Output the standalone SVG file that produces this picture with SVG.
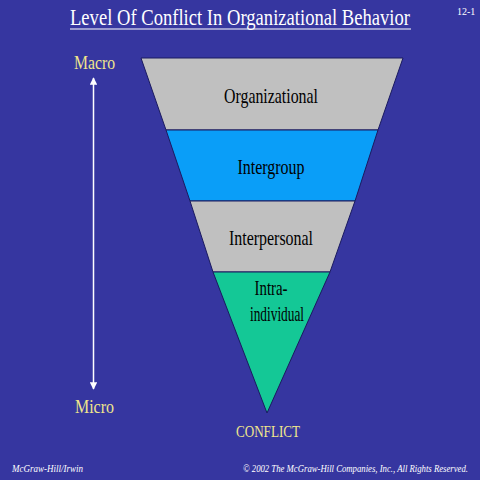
<svg xmlns="http://www.w3.org/2000/svg" width="480" height="480" viewBox="0 0 480 480">
<defs>
<style>
.t{font-family:"Liberation Serif","Times New Roman",serif}
.lvl{font-size:21px;fill:#000;text-anchor:middle}
.yel{fill:#f0e68c}
.band{stroke:#1a1a60;stroke-width:1}
.ft{font-size:9.5px;font-style:italic;fill:#fff}
</style>
<marker id="ah" viewBox="0 0 10 10" refX="9" refY="5" markerWidth="5" markerHeight="5" orient="auto-start-reverse">
<path d="M0,0 L10,5 L0,10 z" fill="#fff"/>
</marker>
</defs>
<rect width="480" height="480" fill="#3636a0"/>
<g id="title">
<text class="t" transform="translate(70,25) scale(0.764,1)" x="0" y="0" font-size="24" fill="#fff" textLength="445" lengthAdjust="spacingAndGlyphs">Level Of Conflict In Organizational Behavior</text>
<line x1="70" y1="29" x2="411" y2="29" stroke="#fff" stroke-width="1.2"/>
<text class="t" x="457" y="15" font-size="10" fill="#fff">12-1</text>
</g>
<g id="scale">
<text class="t yel" transform="translate(74,69) scale(0.83,1)" font-size="19" textLength="49.4" lengthAdjust="spacingAndGlyphs">Macro</text>
<text class="t yel" transform="translate(75,413) scale(0.84,1)" font-size="19" textLength="46.4" lengthAdjust="spacingAndGlyphs">Micro</text>
</g>
<g id="connectors">
<line x1="93.5" y1="78" x2="93.5" y2="389" stroke="#fff" stroke-width="1.5" marker-start="url(#ah)" marker-end="url(#ah)"/>
</g>
<g id="organizational">
<polygon class="band" points="141,58 403,58 378,130 166,130" fill="#c0c0c0"/>
<text class="t lvl" transform="translate(271,103) scale(0.75,1)" textLength="125.3" lengthAdjust="spacingAndGlyphs">Organizational</text>
</g>
<g id="intergroup">
<polygon class="band" points="166,130 378,130 355,201 190,201" fill="#0a9ef8"/>
<text class="t lvl" transform="translate(271,174) scale(0.75,1)" textLength="89.3" lengthAdjust="spacingAndGlyphs">Intergroup</text>
</g>
<g id="interpersonal">
<polygon class="band" points="190,201 355,201 330,272 213,272" fill="#c0c0c0"/>
<text class="t lvl" transform="translate(271,245) scale(0.75,1)" textLength="112" lengthAdjust="spacingAndGlyphs">Interpersonal</text>
</g>
<g id="intraindividual">
<polygon class="band" points="213,272 330,272 267,413" fill="#14c896"/>
<text class="t lvl" transform="translate(271,295) scale(0.75,1)" textLength="44" lengthAdjust="spacingAndGlyphs">Intra-</text>
<text class="t lvl" transform="translate(277,321) scale(0.75,1)" textLength="72" lengthAdjust="spacingAndGlyphs">individual</text>
</g>
<g id="conflict">
<text class="t yel" transform="translate(236,437) scale(0.82,1)" font-size="16" textLength="78" lengthAdjust="spacingAndGlyphs">CONFLICT</text>
</g>
<g id="footer">
<text class="t ft" transform="translate(12,472) scale(0.95,1)" textLength="74.7" lengthAdjust="spacingAndGlyphs">McGraw-Hill/Irwin</text>
<text class="t ft" transform="translate(243,472) scale(0.9,1)" textLength="250" lengthAdjust="spacingAndGlyphs">© 2002 The McGraw-Hill Companies, Inc., All Rights Reserved.</text>
</g>
</svg>
